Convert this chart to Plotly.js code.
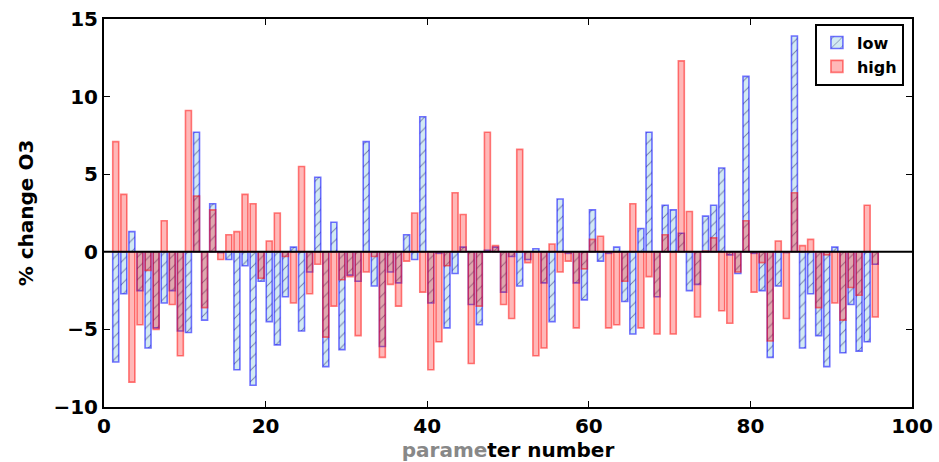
<!DOCTYPE html>
<html>
<head>
<meta charset="utf-8">
<script src="https://cdn.plot.ly/plotly-3.0.1.min.js"></script>
<style>html,body{margin:0;padding:0;background:#fff;}#chart{width:939px;height:462px;}</style>
</head>
<body>
<div id="chart"></div>
<script>
// parameter numbers 1..95
const paramNumbers = [1,2,3,4,5,6,7,8,9,10,11,12,13,14,15,16,17,18,19,20,21,22,23,24,25,26,27,28,29,30,31,32,33,34,35,36,37,38,39,40,41,42,43,44,45,46,47,48,49,50,51,52,53,54,55,56,57,58,59,60,61,62,63,64,65,66,67,68,69,70,71,72,73,74,75,76,77,78,79,80,81,82,83,84,85,86,87,88,89,90,91,92,93,94,95];

const lowValues = [-7.1,-2.7,1.3,-2.5,-6.2,-4.9,-3.3,-2.5,-5.1,-5.2,
  7.7,-4.4,3.1,-0.05,-0.5,-7.6,-0.9,-8.6,-1.9,-4.5,
  -6.0,-2.9,0.3,-5.1,-1.3,4.8,-7.4,1.9,-6.3,-1.5,
  -1.9,7.1,-2.2,-6.1,-1.3,-2.0,1.1,-0.5,8.7,-3.3,
  -0.1,-4.9,-1.4,0.3,-3.4,-4.7,0.1,0.3,-2.6,-0.3,
  -2.2,-0.5,0.2,-2.0,-4.5,3.4,-0.1,-2.0,-3.1,2.7,
  -0.6,-0.1,0.3,-3.2,-5.3,1.5,7.7,-2.9,3.0,2.7,
  1.2,-2.5,-2.1,2.3,3.0,5.4,-0.2,-1.4,11.3,-0.1,
  -2.5,-6.8,-2.2,-0.05,13.9,-6.2,-2.7,-5.4,-7.4,0.3,
  -6.5,-3.4,-6.4,-5.8,-0.8];

const highValues = [7.1,3.7,-8.4,-4.7,-1.2,-5.0,2.0,-3.4,-6.7,9.1,
  3.6,-3.6,2.7,-0.5,1.1,1.3,3.7,3.1,-1.7,0.7,
  2.5,-0.3,-3.3,5.5,-2.7,-0.8,-5.5,-3.5,-1.8,-1.6,
  -5.4,-1.3,-0.3,-6.8,-2.1,-3.5,-0.6,2.5,-2.6,-7.6,
  -5.8,-0.9,3.8,2.4,-7.2,-3.5,7.7,0.4,-3.4,-4.3,
  6.6,-0.7,-6.7,-6.2,0.5,-1.3,-0.6,-4.9,-1.1,0.8,
  1.0,-4.9,-4.7,-1.9,3.1,-4.9,-1.6,-5.3,1.1,-5.3,
  12.3,2.6,-4.2,0.05,0.9,-3.8,-4.6,-1.3,2.0,-2.6,
  -0.7,-5.75,0.7,-4.3,3.8,0.4,0.8,-3.6,-0.2,-3.3,
  -4.4,-2.3,-2.8,3.0,-4.2];

const xTicks = [0,20,40,60,80,100];
const yTicks = [-10,-5,0,5,10,15];

const fontFam = 'DejaVu Sans, sans-serif';

const traces = [
  {
    type: 'bar', name: 'low', x: paramNumbers, y: lowValues,
    width: 0.74, offset: 0.08,
    marker: {
      color: 'rgba(173,216,230,0.55)',
      line: {color: 'rgba(0,0,255,0.55)', width: 1.6},
      pattern: {shape: '/', size: 8, solidity: 0.12, fgcolor: 'rgba(40,40,110,0.55)', bgcolor: 'rgba(173,216,230,0.55)'}
    },
    hoverinfo: 'x+y'
  },
  {
    type: 'bar', name: 'high', x: paramNumbers, y: highValues,
    width: 0.74, offset: 0.08,
    marker: {
      color: 'rgba(255,0,0,0.28)',
      line: {color: 'rgba(255,0,0,0.5)', width: 1.6}
    },
    hoverinfo: 'x+y'
  }
];

const layout = {
  width: 939, height: 462,
  margin: {l: 104, r: 27, t: 19, b: 55},
  paper_bgcolor: '#fff', plot_bgcolor: '#fff',
  barmode: 'overlay',
  bargap: 0,
  font: {family: fontFam, size: 20, color: '#000', weight: 'bold'},
  xaxis: {
    range: [0, 100], tickvals: xTicks, ticktext: xTicks.map(String),
    showgrid: false, zeroline: false,
    showline: true, linecolor: '#000', linewidth: 2, mirror: 'ticks',
    ticks: 'inside', ticklen: 6, tickwidth: 1, tickcolor: '#000',
    tickfont: {family: fontFam, size: 20, weight: 'bold'},
    title: {text: "<span style='color:#888888'>parame</span>ter number", font: {family: fontFam, size: 20, weight: 'bold'}, standoff: 4}
  },
  yaxis: {
    range: [-10, 15], tickvals: yTicks,
    showgrid: false, zeroline: false,
    showline: true, linecolor: '#000', linewidth: 2, mirror: 'ticks',
    ticks: 'inside', ticklen: 6, tickwidth: 1, tickcolor: '#000',
    tickfont: {family: fontFam, size: 20, weight: 'bold'},
    title: {text: '% change O3', font: {family: fontFam, size: 20, weight: 'bold'}, standoff: 14}
  },
  shapes: [
    {type: 'line', xref: 'paper', x0: 0, x1: 1, yref: 'y', y0: 0, y1: 0, line: {color: '#000', width: 2}, layer: 'above'}
  ],
  legend: {
    x: 0.99, xanchor: 'right', y: 0.988, yanchor: 'top',
    bgcolor: '#fff', bordercolor: '#000', borderwidth: 2,
    font: {family: fontFam, size: 16, weight: 'bold'},
    tracegroupgap: 0
  },
  showlegend: true
};

Plotly.newPlot('chart', traces, layout, {displayModeBar: false, staticPlot: true});
</script>
</body>
</html>
